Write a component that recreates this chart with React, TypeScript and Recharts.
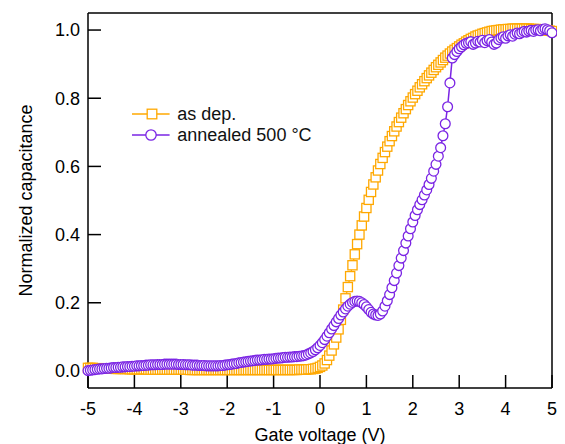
import React from 'react';
import { LineChart, Line, XAxis, YAxis, Legend, Label } from 'recharts';

// Gate voltage sweep: -5 V to 5 V in 0.05 V steps
const voltStart = -5;
const voltStep = 0.05;

// Normalized capacitance, "as dep."
const asDep = [
  0.009, 0.009, 0.009, 0.008, 0.008, 0.008, 0.008, 0.007, 0.007, 0.007, 0.007, 0.007, 0.006, 0.006, 0.006, 0.006, 0.006, 0.006, 0.005, 0.005,
  0.005, 0.005, 0.005, 0.005, 0.005, 0.005, 0.004, 0.004, 0.004, 0.004, 0.004, 0.004, 0.004, 0.004, 0.004, 0.004, 0.004, 0.004, 0.004, 0.004,
  0.004, 0.004, 0.004, 0.004, 0.003, 0.003, 0.003, 0.003, 0.003, 0.003, 0.003, 0.003, 0.003, 0.003, 0.003, 0.003, 0.003, 0.003, 0.003, 0.003,
  0.003, 0.003, 0.003, 0.003, 0.003, 0.003, 0.003, 0.003, 0.003, 0.003, 0.003, 0.003, 0.003, 0.003, 0.003, 0.003, 0.003, 0.003, 0.003, 0.003,
  0.003, 0.003, 0.003, 0.003, 0.003, 0.003, 0.003, 0.003, 0.003, 0.003, 0.003, 0.004, 0.004, 0.004, 0.004, 0.005, 0.005, 0.006, 0.007, 0.009,
  0.012, 0.016, 0.022, 0.032, 0.045, 0.06, 0.078, 0.098, 0.122, 0.15, 0.18, 0.213, 0.246, 0.278, 0.31, 0.342, 0.372, 0.4, 0.427, 0.453,
  0.478, 0.502, 0.525, 0.547, 0.568, 0.588, 0.607, 0.625, 0.642, 0.658, 0.674, 0.689, 0.703, 0.717, 0.73, 0.743, 0.756, 0.768, 0.78, 0.791,
  0.802, 0.812, 0.822, 0.832, 0.841, 0.85, 0.859, 0.867, 0.875, 0.883, 0.891, 0.898, 0.905, 0.912, 0.919, 0.925, 0.931, 0.937, 0.942, 0.947,
  0.952, 0.957, 0.961, 0.966, 0.97, 0.974, 0.977, 0.981, 0.984, 0.986, 0.989, 0.991, 0.993, 0.995, 0.997, 0.998, 0.999, 1.0, 1.001, 1.002,
  1.002, 1.003, 1.003, 1.004, 1.004, 1.004, 1.004, 1.004, 1.004, 1.004, 1.004, 1.003, 1.003, 1.003, 1.002, 1.002, 1.001, 1.0, 0.999, 0.998,
  0.997,
];

// Normalized capacitance, "annealed 500 °C"
const annealed = [
  0.001, 0.002, 0.003, 0.004, 0.005, 0.006, 0.006, 0.007, 0.008, 0.008, 0.009, 0.01, 0.01, 0.011, 0.011, 0.012, 0.012, 0.013, 0.013, 0.014,
  0.014, 0.015, 0.015, 0.016, 0.016, 0.017, 0.017, 0.018, 0.018, 0.018, 0.019, 0.019, 0.019, 0.02, 0.02, 0.02, 0.02, 0.02, 0.02, 0.019,
  0.019, 0.019, 0.018, 0.018, 0.018, 0.017, 0.017, 0.017, 0.016, 0.016, 0.016, 0.015, 0.015, 0.015, 0.015, 0.015, 0.015, 0.016, 0.016, 0.017,
  0.018, 0.019, 0.02, 0.021, 0.022, 0.024, 0.025, 0.026, 0.027, 0.028, 0.029, 0.03, 0.031, 0.032, 0.032, 0.033, 0.034, 0.034, 0.035, 0.035,
  0.036, 0.037, 0.038, 0.038, 0.039, 0.04, 0.04, 0.041, 0.041, 0.042, 0.042, 0.043, 0.044, 0.045, 0.047, 0.05, 0.053, 0.057, 0.062, 0.068,
  0.075, 0.083, 0.092, 0.102, 0.112, 0.123, 0.133, 0.144, 0.154, 0.164, 0.173, 0.182, 0.19, 0.196, 0.201, 0.204, 0.205, 0.204, 0.2, 0.195,
  0.188, 0.18, 0.172, 0.167, 0.164, 0.163, 0.167, 0.176, 0.19, 0.206, 0.224, 0.244, 0.265, 0.287, 0.309, 0.331, 0.353, 0.375, 0.396, 0.417,
  0.437, 0.456, 0.473, 0.488, 0.502, 0.516, 0.531, 0.547, 0.565, 0.586, 0.606, 0.63, 0.655, 0.69, 0.725, 0.775, 0.845, 0.918, 0.928, 0.937,
  0.945, 0.951, 0.957, 0.961, 0.963, 0.966, 0.958, 0.962, 0.967, 0.965, 0.97, 0.963, 0.969, 0.972, 0.965, 0.958, 0.962, 0.972, 0.977, 0.98,
  0.976, 0.983, 0.986, 0.982, 0.988, 0.991, 0.989, 0.993, 0.996, 0.994, 0.997, 0.999, 0.996, 1.0, 1.001, 0.998, 1.002, 1.004, 1.001, 0.998,
  0.992,
];

const xTicks = [-5, -4, -3, -2, -1, 0, 1, 2, 3, 4, 5];
const yTicks = [0, 0.2, 0.4, 0.6, 0.8, 1.0];
const seriesNames = ['as dep.', 'annealed 500 °C'];
const xTitle = 'Gate voltage (V)';
const yTitle = 'Normalized capacitance';

const ORANGE = '#FFA800';
const PURPLE = '#7A24E4';
const FONT = '"Liberation Sans", Arial, Helvetica, sans-serif';

const data = asDep.map((v, i) => ({
  x: Math.round((voltStart + i * voltStep) * 100) / 100,
  asDep: v,
  annealed: annealed[i],
}));

const SquareDot = (props: any) => {
  const { cx, cy, index } = props;
  if (cx == null || cy == null) return <g key={`s-${index}`} />;
  return (
    <rect
      key={`s-${index}`}
      x={cx - 4.6}
      y={cy - 4.6}
      width={9.2}
      height={9.2}
      fill="#fff"
      stroke={ORANGE}
      strokeWidth={1.3}
    />
  );
};

const CircleDot = (props: any) => {
  const { cx, cy, index } = props;
  if (cx == null || cy == null) return <g key={`c-${index}`} />;
  return (
    <circle key={`c-${index}`} cx={cx} cy={cy} r={4.9} fill="#fff" stroke={PURPLE} strokeWidth={1.3} />
  );
};

const renderLegend = () => (
  <div style={{ fontFamily: FONT, fontSize: 18, color: '#111' }}>
    <div style={{ display: 'flex', alignItems: 'center', height: 20.7 }}>
      <svg width={45.6} height={20} style={{ display: 'block' }}>
        <line x1={0} y1={10} x2={37.6} y2={10} stroke={ORANGE} strokeWidth={1.5} />
        <rect x={15.2} y={5.2} width={9.6} height={9.6} fill="#fff" stroke={ORANGE} strokeWidth={1.3} />
      </svg>
      <span style={{ whiteSpace: 'nowrap' }}>{seriesNames[0]}</span>
    </div>
    <div style={{ display: 'flex', alignItems: 'center', height: 20.7 }}>
      <svg width={45.6} height={20} style={{ display: 'block' }}>
        <line x1={0} y1={10} x2={37.6} y2={10} stroke={PURPLE} strokeWidth={1.5} />
        <circle cx={19} cy={10} r={5.2} fill="#fff" stroke={PURPLE} strokeWidth={1.3} />
      </svg>
      <span style={{ whiteSpace: 'nowrap' }}>{seriesNames[1]}</span>
    </div>
  </div>
);

const axisStroke = { stroke: '#000', strokeWidth: 1.5 };

export default function App() {
  return (
    <LineChart
      width={557}
      height={436}
      data={data}
      margin={{ top: 0, right: 0, bottom: 0, left: 0 }}
      style={{ fontFamily: FONT }}
    >
      <XAxis
        dataKey="x"
        type="number"
        domain={[-5, 5]}
        ticks={xTicks}
        interval={0}
        height={56}
        axisLine={axisStroke}
        tickLine={axisStroke}
        tickSize={-13}
        tickMargin={27}
        tick={{ fontSize: 18, fill: '#000' }}
      >
        <Label value={xTitle} position="insideBottom" offset={3} style={{ fontSize: 18, fill: '#000' }} />
      </XAxis>
      <XAxis
        xAxisId="top"
        orientation="top"
        dataKey="x"
        type="number"
        domain={[-5, 5]}
        ticks={xTicks}
        interval={0}
        height={5}
        axisLine={axisStroke}
        tickLine={axisStroke}
        tickSize={-13}
        tick={false}
      />
      <YAxis
        type="number"
        domain={[-0.05, 1.05]}
        ticks={yTicks}
        interval={0}
        width={80}
        axisLine={axisStroke}
        tickLine={axisStroke}
        tickSize={-13}
        tickMargin={21}
        tickFormatter={(v: number) => v.toFixed(1)}
        tick={{ fontSize: 18, fill: '#000' }}
      >
        <Label
          value={yTitle}
          angle={-90}
          position="insideLeft"
          offset={18}
          style={{ fontSize: 18, fill: '#000', textAnchor: 'middle' }}
        />
      </YAxis>
      <YAxis
        yAxisId="right"
        orientation="right"
        type="number"
        domain={[-0.05, 1.05]}
        ticks={yTicks}
        interval={0}
        width={13}
        axisLine={axisStroke}
        tickLine={axisStroke}
        tickSize={-13}
        tick={false}
      />
      <Legend
        layout="vertical"
        align="center"
        verticalAlign="middle"
        content={renderLegend}
        wrapperStyle={{ left: 123.7, top: 96, width: 'auto' }}
      />
      <Line
        type="linear"
        dataKey="asDep"
        name={seriesNames[0]}
        stroke={ORANGE}
        strokeWidth={1.2}
        dot={SquareDot}
        activeDot={false}
        isAnimationActive={false}
      />
      <Line
        type="linear"
        dataKey="annealed"
        name={seriesNames[1]}
        stroke={PURPLE}
        strokeWidth={1.5}
        dot={CircleDot}
        activeDot={false}
        isAnimationActive={false}
      />
    </LineChart>
  );
}
